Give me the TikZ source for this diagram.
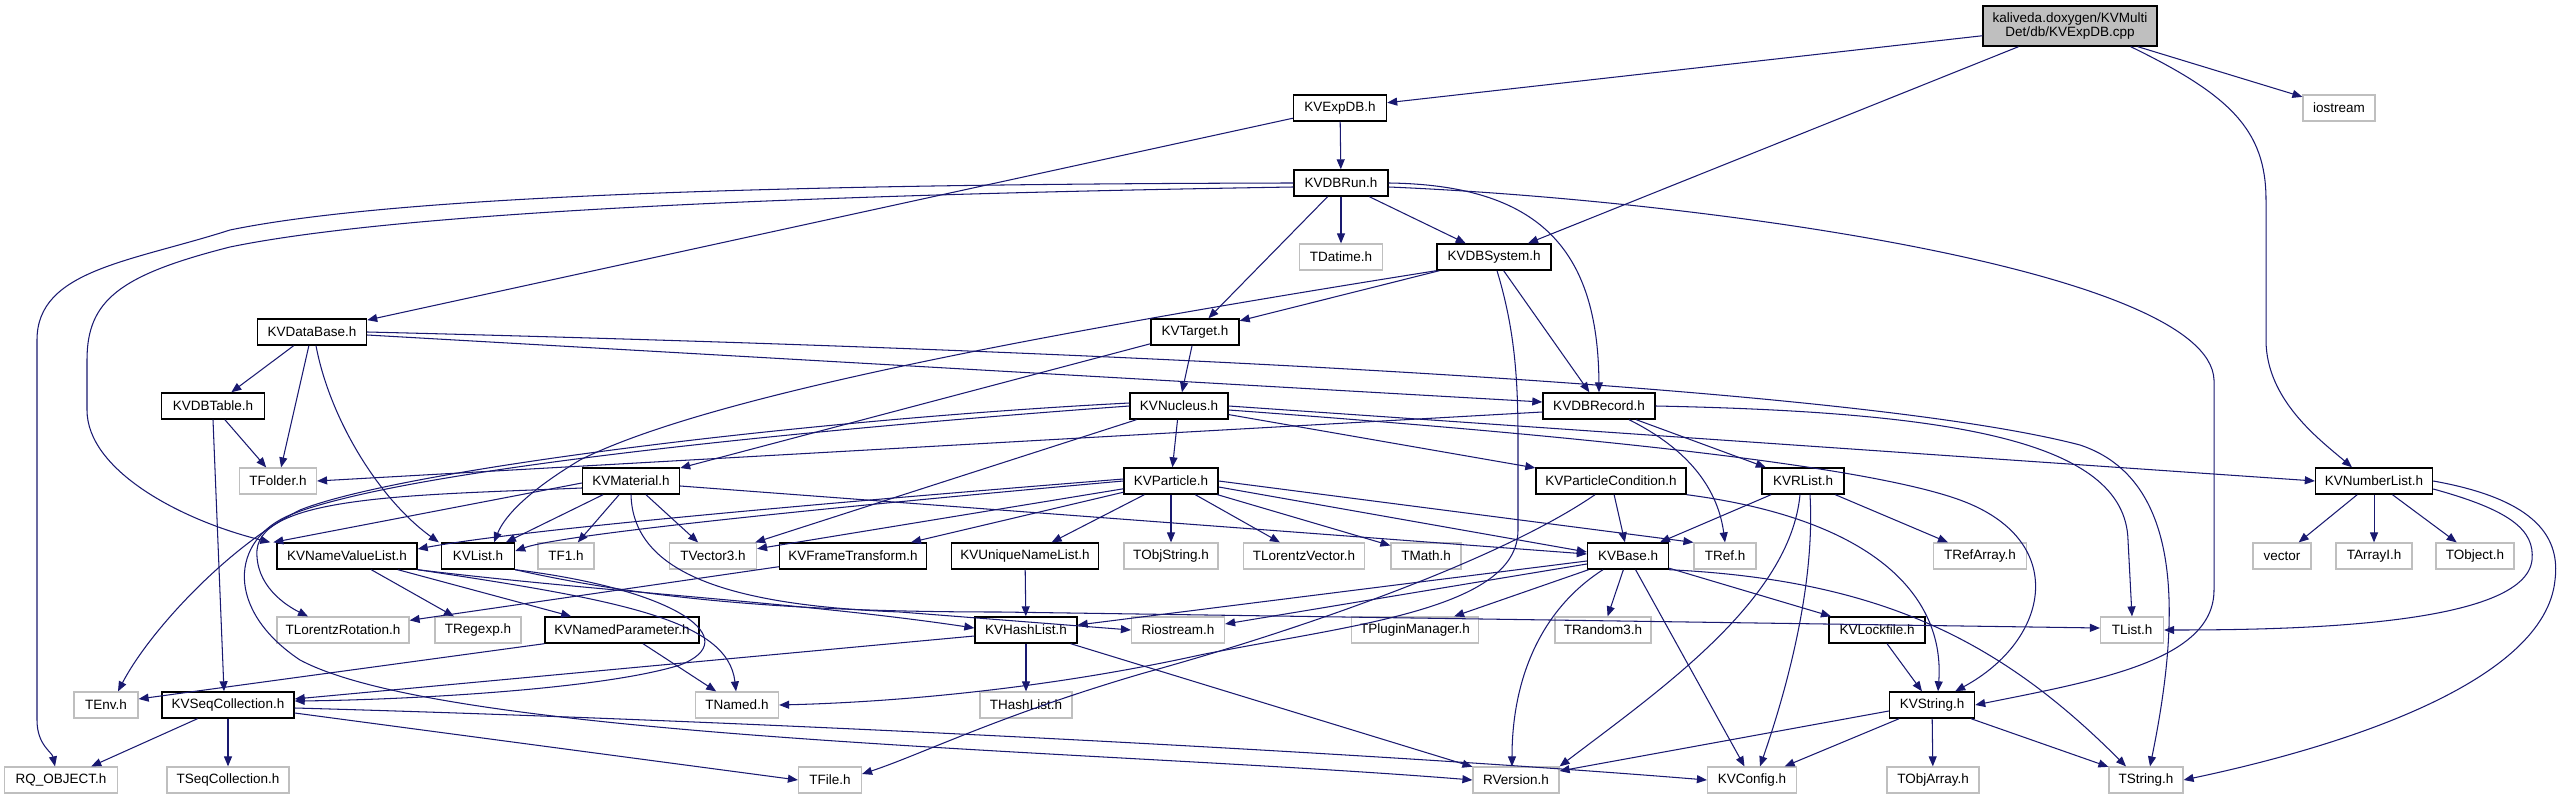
\documentclass[tikz,border=0pt]{standalone}
\usepackage{fontspec}
\setmainfont{Liberation Sans}
\usetikzlibrary{arrows.meta}
\definecolor{edgec}{HTML}{191970}
\definecolor{grayb}{HTML}{BFBFBF}
\begin{document}
\begin{tikzpicture}[x=1pt,y=-1pt,
  every node/.style={font=\fontsize{13.5}{15}\selectfont, inner sep=0pt, minimum height=26pt},
  kv/.style={draw=black, line width=1.4pt, fill=white},
  ext/.style={draw=grayb, line width=1.2pt, fill=white},
  mainbox/.style={draw=black, line width=1.4pt, fill=grayb, align=center, minimum width=174pt, minimum height=40pt, font=\fontsize{13.5}{14.5}\selectfont},
  e/.style={draw=edgec, line width=1.05pt, -{Triangle[length=10pt,width=8pt]}}]
\useasboundingbox (0,0) rectangle (2562,799);
% nodes
\node[mainbox] (main) at (2070,26) {kaliveda.doxygen/KVMulti\\Det/db/KVExpDB.cpp};
\node[kv,minimum width=93] (kvexpdb) at (1340,108) {KVExpDB.h};
\node[ext,minimum width=72] (iostream) at (2339,108) {iostream};
\node[kv,minimum width=94] (kvdbrun) at (1341,183) {KVDBRun.h};
\node[ext,minimum width=83] (tdatime) at (1341,257) {TDatime.h};
\node[kv,minimum width=114] (kvdbsystem) at (1494,257) {KVDBSystem.h};
\node[kv,minimum width=109] (kvdatabase) at (312,332) {KVDataBase.h};
\node[kv,minimum width=88] (kvtarget) at (1195,332) {KVTarget.h};
\node[kv,minimum width=103] (kvdbtable) at (213,406) {KVDBTable.h};
\node[kv,minimum width=98] (kvnucleus) at (1179,406) {KVNucleus.h};
\node[kv,minimum width=112] (kvdbrecord) at (1599,406) {KVDBRecord.h};
\node[ext,minimum width=77] (tfolder) at (278,481) {TFolder.h};
\node[kv,minimum width=97] (kvmaterial) at (631,481) {KVMaterial.h};
\node[kv,minimum width=94] (kvparticle) at (1171,481) {KVParticle.h};
\node[kv,minimum width=150] (kvpc) at (1611,481) {KVParticleCondition.h};
\node[kv,minimum width=82] (kvrlist) at (1803,481) {KVRList.h};
\node[kv,minimum width=117] (kvnumberlist) at (2374,481) {KVNumberList.h};
\node[kv,minimum width=140] (kvnvl) at (347,556) {KVNameValueList.h};
\node[kv,minimum width=73] (kvlist) at (478,556) {KVList.h};
\node[ext,minimum width=56] (tf1) at (566,556) {TF1.h};
\node[ext,minimum width=87] (tvector3) at (713,556) {TVector3.h};
\node[kv,minimum width=147] (kvft) at (853,556) {KVFrameTransform.h};
\node[kv,minimum width=147] (kvunl) at (1025,556) {KVUniqueNameList.h};
\node[ext,minimum width=94] (tobjstring) at (1171,556) {TObjString.h};
\node[ext,minimum width=121] (tlv) at (1304,556) {TLorentzVector.h};
\node[ext,minimum width=70] (tmath) at (1426,556) {TMath.h};
\node[kv,minimum width=81] (kvbase) at (1628,556) {KVBase.h};
\node[ext,minimum width=62] (tref) at (1725,556) {TRef.h};
\node[ext,minimum width=93] (trefarray) at (1980,556) {TRefArray.h};
\node[ext,minimum width=58] (vector) at (2282,556) {vector};
\node[ext,minimum width=76] (tarrayi) at (2374,556) {TArrayI.h};
\node[ext,minimum width=78] (tobject) at (2475,556) {TObject.h};
\node[ext,minimum width=132] (tlr) at (343,630) {TLorentzRotation.h};
\node[ext,minimum width=86] (tregexp) at (478,630) {TRegexp.h};
\node[kv,minimum width=154] (kvnp) at (622,630) {KVNamedParameter.h};
\node[kv,minimum width=102] (kvhashlist) at (1026,630) {KVHashList.h};
\node[ext,minimum width=93] (riostream) at (1178,630) {Riostream.h};
\node[ext,minimum width=127] (tpm) at (1415,630) {TPluginManager.h};
\node[ext,minimum width=96] (trandom3) at (1603,630) {TRandom3.h};
\node[kv,minimum width=96] (kvlockfile) at (1877,630) {KVLockfile.h};
\node[ext,minimum width=63] (tlist) at (2132,630) {TList.h};
\node[ext,minimum width=64] (tenv) at (106,705) {TEnv.h};
\node[kv,minimum width=132] (kvseq) at (228,705) {KVSeqCollection.h};
\node[ext,minimum width=83] (tnamed) at (737,705) {TNamed.h};
\node[ext,minimum width=92] (thashlist) at (1026,705) {THashList.h};
\node[kv,minimum width=85] (kvstring) at (1932,705) {KVString.h};
\node[ext,minimum width=113] (rqobject) at (61,780) {RQ\_OBJECT.h};
\node[ext,minimum width=122] (tseq) at (228,780) {TSeqCollection.h};
\node[ext,minimum width=63] (tfile) at (830,780) {TFile.h};
\node[ext,minimum width=86] (rversion) at (1516,780) {RVersion.h};
\node[ext,minimum width=89] (kvconfig) at (1752,780) {KVConfig.h};
\node[ext,minimum width=92] (tobjarray) at (1933,780) {TObjArray.h};
\node[ext,minimum width=74] (tstring) at (2146,780) {TString.h};
% edges: main
\draw[e] (main) -- (kvexpdb);
\draw[e] (main) -- (kvdbsystem);
\draw[e] (main) -- (iostream);
\draw[e] ([xshift=-27pt]main.south east) .. controls (2230,95) and (2266,130) .. (2266,200) -- (2266,340) .. controls (2266,400) and (2320,440) .. ([xshift=-22pt]kvnumberlist.north);
% KVExpDB
\draw[e] (kvexpdb) -- (kvdbrun);
\draw[e] (kvexpdb) -- (kvdatabase);
% KVDBRun
\draw[e] (kvdbrun) -- (tdatime);
\draw[e] (kvdbrun) -- (kvdbsystem);
\draw[e] (kvdbrun) -- (kvtarget);
\draw[e] (kvdbrun.east) .. controls (1540,185) and (1598,250) .. (kvdbrecord.north);
\draw[e] ([yshift=-4pt]kvdbrun.east) .. controls (1700,200) and (2210,270) .. (2214,380) -- (2214,590) .. controls (2214,660) and (2100,680) .. (kvstring.east);
\draw[e] (kvdbrun.west) .. controls (800,184) and (400,195) .. (230,230) .. controls (130,262) and (37,270) .. (37,340) -- (37,720) .. controls (37,745) and (52,752) .. ([xshift=-6pt]rqobject.north);
\draw[e] ([yshift=-4pt]kvdbrun.west) .. controls (800,195) and (400,212) .. (230,247) .. controls (120,275) and (87,300) .. (87,360) -- (87,410) .. controls (87,470) and (180,520) .. ([xshift=-6pt]kvnvl.north west);
% KVDBSystem
\draw[e] (kvdbsystem) -- (kvtarget);
\draw[e] (kvdbsystem) -- (kvdbrecord);
\draw[e] (kvdbsystem.south west) .. controls (1000,340) and (700,400) .. (580,460) .. controls (530,490) and (505,515) .. ([xshift=16pt]kvlist.north);
\draw[e] ([xshift=3pt]kvdbsystem.south) .. controls (1515,330) and (1518,380) .. (1518,440) -- (1518,530) .. controls (1518,610) and (1350,625) .. (1200,655) .. controls (1050,688) and (900,702) .. (tnamed.east);
% KVDataBase
\draw[e] (kvdatabase) -- (kvdbtable);
\draw[e] (kvdatabase) -- (tfolder);
\draw[e] ([xshift=4pt]kvdatabase.south) .. controls (330,420) and (380,500) .. ([xshift=-2pt]kvlist.north west);
\draw[e] ([yshift=-3pt]kvdatabase.east) -- ([yshift=4pt]kvdbrecord.west);
\draw[e] (kvdatabase.east) .. controls (1100,350) and (1850,385) .. (2080,445) .. controls (2185,480) and (2180,620) .. ([xshift=4pt]tstring.north);
% KVDBTable
\draw[e] (kvdbtable) -- (tfolder);
\draw[e] (kvdbtable.south) -- ([xshift=-4pt]kvseq.north);
% KVTarget
\draw[e] (kvtarget) -- (kvnucleus);
\draw[e] (kvtarget) -- (kvmaterial);
% KVDBRecord
\draw[e] ([yshift=-6pt]kvdbrecord.west) -- (tfolder.east);
\draw[e] (kvdbrecord) -- (kvrlist);
\draw[e] ([xshift=30pt]kvdbrecord.south) .. controls (1690,450) and (1718,490) .. (tref.north);
\draw[e] (kvdbrecord.east) .. controls (1950,412) and (2125,440) .. (2128,540) -- (tlist.north);
% KVNucleus
\draw[e] (kvnucleus) -- (kvparticle);
\draw[e] (kvnucleus) -- (kvpc);
\draw[e] (kvnucleus.east) -- (kvnumberlist.west);
\draw[e] ([yshift=-4pt]kvnucleus.east) .. controls (1500,430) and (1850,460) .. (1960,500) .. controls (2070,540) and (2050,640) .. ([xshift=-20pt]kvstring.north east);
\draw[e] (kvnucleus) -- (tvector3);
\draw[e] ([yshift=3pt]kvnucleus.west) .. controls (800,420) and (400,470) .. (300,510) .. controls (230,545) and (150,630) .. ([xshift=12pt]tenv.north);
\draw[e] (kvnucleus.west) .. controls (800,430) and (400,470) .. (290,515) .. controls (230,540) and (225,610) .. (300,660) .. controls (450,740) and (1100,750) .. (rversion.west);
% KVMaterial
\draw[e] (kvmaterial) -- (kvlist);
\draw[e] (kvmaterial) -- (tf1);
\draw[e] (kvmaterial) -- (tvector3);
\draw[e] ([yshift=-5pt]kvmaterial.east) -- ([yshift=2pt]kvbase.west);
\draw[e] ([yshift=-7pt]kvmaterial.west) .. controls (420,495) and (262,495) .. (257,550) .. controls (255,585) and (285,605) .. ([xshift=-35pt]tlr.north);
\draw[e] ([yshift=-2pt]kvmaterial.west) -- ([xshift=-3pt]kvnvl.north west);
\draw[e] (kvmaterial.south) .. controls (633,570) and (720,605) .. (900,612) -- (riostream.west);
% KVParticle
\draw[e] (kvparticle) -- (kvunl);
\draw[e] (kvparticle) -- (tobjstring);
\draw[e] (kvparticle) -- (tlv);
\draw[e] (kvparticle) -- (tmath);
\draw[e] ([yshift=-6pt]kvparticle.east) -- ([yshift=4pt]kvbase.west);
\draw[e] (kvparticle.east) -- (tref.north west);
\draw[e] (kvparticle) -- (kvft);
\draw[e] (kvparticle) -- (tvector3);
\draw[e] ([yshift=2pt]kvparticle.west) .. controls (800,505) and (520,530) .. ([yshift=7pt]kvnvl.east);
\draw[e] (kvparticle.west) .. controls (800,510) and (560,535) .. ([yshift=5pt]kvlist.east);
% KVBase
\draw[e] ([yshift=-5pt]kvbase.west) -- ([yshift=5pt]kvhashlist.east);
\draw[e] ([yshift=-8pt]kvbase.west) -- ([yshift=6pt]riostream.east);
\draw[e] (kvbase) -- (tpm);
\draw[e] (kvbase) -- (trandom3);
\draw[e] ([xshift=-25pt]kvbase.south) .. controls (1540,610) and (1512,680) .. ([xshift=-4pt]rversion.north);
\draw[e] (kvbase) -- (kvconfig);
\draw[e] (kvbase.south east) .. controls (1880,580) and (2000,640) .. ([xshift=-20pt]tstring.north);
\draw[e] (kvbase) -- (kvlockfile);
% KVParticleCondition
\draw[e] (kvpc) -- (kvbase);
\draw[e] (kvpc.south east) .. controls (1880,520) and (1945,600) .. ([xshift=6pt]kvstring.north);
\draw[e] ([xshift=-16pt]kvpc.south) .. controls (1500,560) and (1300,630) .. (1144,673) .. controls (1000,715) and (920,755) .. ([yshift=6pt]tfile.east);
% KVRList
\draw[e] (kvrlist) -- (kvbase);
\draw[e] (kvrlist) -- (trefarray);
\draw[e] ([xshift=7pt]kvrlist.south) .. controls (1815,580) and (1790,680) .. ([xshift=8pt]kvconfig.north);
\draw[e] ([xshift=-3pt]kvrlist.south) .. controls (1790,600) and (1660,690) .. (rversion.north east);
% KVLockfile, KVString
\draw[e] (kvlockfile) -- (kvstring);
\draw[e] (kvstring) -- (kvconfig);
\draw[e] (kvstring) -- (tobjarray);
\draw[e] (kvstring) -- (tstring);
\draw[e] ([yshift=-6pt]kvstring.west) -- ([yshift=9pt]rversion.east);
% KVNumberList
\draw[e] (kvnumberlist) -- (vector);
\draw[e] (kvnumberlist) -- (tarrayi);
\draw[e] (kvnumberlist) -- (tobject);
\draw[e] ([yshift=-8pt]kvnumberlist.east) .. controls (2510,510) and (2535,530) .. (2532,560) .. controls (2525,625) and (2300,630) .. (tlist.east);
\draw[e] (kvnumberlist.east) .. controls (2540,500) and (2560,540) .. (2555,580) .. controls (2545,680) and (2350,745) .. (tstring.east);
% others
\draw[e] (kvft) -- (tlr);
\draw[e] (kvunl) -- (kvhashlist);
\draw[e] (kvhashlist) -- (thashlist);
\draw[e] (kvhashlist) -- (rversion);
\draw[e] ([yshift=-6pt]kvhashlist.west) -- ([yshift=6pt]kvseq.east);
\draw[e] (kvnp.south west) -- ([yshift=6pt]tenv.east);
\draw[e] (kvnp) -- (tnamed);
\draw[e] (kvnvl) -- (tregexp);
\draw[e] (kvnvl) -- (kvnp);
\draw[e] (kvnvl.south east) .. controls (620,600) and (728,620) .. ([xshift=-1pt]tnamed.north);
\draw[e] (kvnvl.south east) .. controls (600,592) and (800,602) .. ([yshift=2pt]kvhashlist.west);
\draw[e] (kvlist.south east) .. controls (680,590) and (745,640) .. (680,665) .. controls (600,690) and (400,700) .. ([yshift=4pt]kvseq.east);
\draw[e] (kvlist.south east) .. controls (650,600) and (800,612) .. (1000,612) -- ([yshift=2pt]tlist.west);
\draw[e] (kvseq) -- (rqobject);
\draw[e] (kvseq) -- (tseq);
\draw[e] ([yshift=-8pt]kvseq.east) -- (tfile.west);
\draw[e] ([yshift=-3pt]kvseq.east) .. controls (800,722) and (1400,755) .. (kvconfig.west);
\end{tikzpicture}
\end{document}
